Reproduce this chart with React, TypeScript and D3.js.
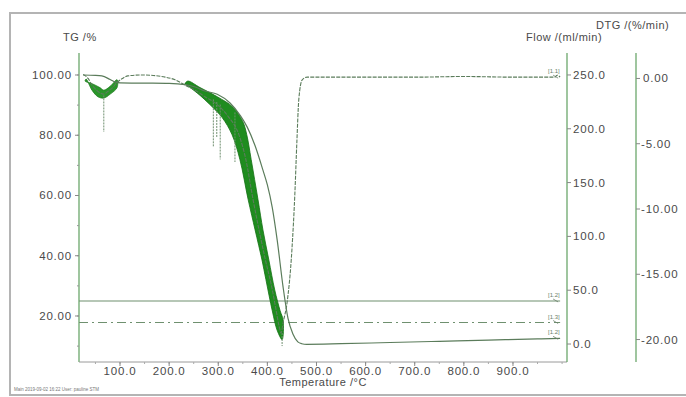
import React from 'react';
import * as d3 from 'd3';

// tick values for the four axes
const tempTicks = [100, 200, 300, 400, 500, 600, 700, 800, 900];
const tgTicks = [20, 40, 60, 80, 100];
const flowTicks = [0, 50, 100, 150, 200, 250];
const dtgTicks = [0, -5, -10, -15, -20];

// TG curve (%)
const tgTemp = [25, 50, 63, 80, 90, 100, 150, 200, 232, 253, 273, 298, 324, 345, 359, 375, 391, 400, 410, 420, 432, 442, 452, 462, 470, 480, 550, 650, 750, 850, 950, 996];
const tgValue = [100, 99.9, 99.7, 98.5, 97.7, 97.4, 97.3, 97.2, 96.8, 96.0, 94.7, 93.6, 90.7, 86.5, 82.7, 76.5, 68.4, 63.5, 56.0, 45.2, 29.6, 19.2, 14.0, 11.4, 10.8, 10.6, 10.8, 11.2, 11.6, 12.0, 12.4, 12.6];

// DTG curve (%/min), mean line
const dtgTemp = [25, 35, 43, 52, 59, 67, 75, 85, 94, 105, 116, 145, 192, 212, 232, 253, 273, 298, 320, 342, 355, 371, 383, 396, 409, 418, 424, 428, 432, 440, 450, 456, 460, 464, 471, 481, 520, 600, 700, 800, 900, 985, 990, 996];
const dtgValue = [0.3, 0.0, -0.5, -0.9, -1.1, -1.2, -1.0, -0.7, -0.3, 0.0, 0.2, 0.27, 0.1, -0.1, -0.5, -0.9, -1.4, -2.0, -2.9, -4.3, -6.0, -9.3, -11.6, -13.9, -16.0, -17.8, -19.0, -19.5, -18.7, -17.2, -13.1, -8.8, -4.9, -1.6, -0.1, 0.1, 0.1, 0.1, 0.1, 0.15, 0.1, 0.1, 0.25, 0.1];

// DTG noise envelope, main decomposition
const bandUpperTemp = [232, 238, 263, 298, 330, 350, 358, 367, 381, 391, 403, 415, 426, 432];
const bandUpperValue = [-0.4, -0.2, -0.7, -1.4, -2.2, -3.3, -4.3, -6.2, -9.3, -11.6, -13.9, -16.2, -17.8, -18.5];
const bandLowerTemp = [430, 420, 410, 397, 389, 375, 361, 344, 328, 308, 283, 263, 243, 232];
const bandLowerValue = [-20.0, -19.3, -17.8, -15.4, -13.9, -11.6, -9.3, -6.2, -4.3, -3.0, -2.0, -1.3, -0.7, -0.4];

// DTG noise envelope, early moisture step
const dipUpperTemp = [29, 43, 59, 67, 80, 94];
const dipUpperValue = [-0.2, -0.4, -0.7, -0.9, -0.6, -0.1];
const dipLowerTemp = [94, 80, 67, 55, 43, 31];
const dipLowerValue = [-0.7, -1.2, -1.5, -1.4, -0.9, -0.05];

// single spikes in DTG
const spikeTemp = [67, 290, 297, 304, 334, 430];
const spikeTop = [-1.3, -1.6, -1.8, -2.0, -2.6, -19.5];
const spikeBottom = [-4.1, -5.2, -4.5, -6.2, -6.4, -20.5];

// purge gas flows (ml/min)
const flowTemp = [16.5, 996];
const flowSolid = [40, 40];
const flowDashed = [20, 20];

const font = 'Liberation Sans, Arial, sans-serif';
const textCol = '#4a4a4a';
const axisGreen = '#5f9f5f';
const curveCol = '#5b7c5b';

const left = 79, right = 567, top = 53, bottom = 362, dtgAxisX = 636;

const App = () => {
  const x = d3.scaleLinear().domain([16.5, 1010]).range([left, right]);
  const yTG = d3.scaleLinear().domain([4.73, 107.3]).range([bottom, top]);
  const yDTG = d3.scaleLinear().domain([-21.72, 1.95]).range([bottom, top]);
  const yFlow = d3.scaleLinear().domain([-16.7, 270.4]).range([bottom, top]);

  const zip = (a: number[], b: number[]) => a.map((t, i) => [t, b[i]] as [number, number]);

  const tgLine = d3.line<[number, number]>().x(d => x(d[0])).y(d => yTG(d[1])).curve(d3.curveMonotoneX);
  const dtgLine = d3.line<[number, number]>().x(d => x(d[0])).y(d => yDTG(d[1])).curve(d3.curveMonotoneX);
  const flowLine = d3.line<[number, number]>().x(d => x(d[0])).y(d => yFlow(d[1]));
  const bandShape = d3.line<[number, number]>().x(d => x(d[0])).y(d => yDTG(d[1])).curve(d3.curveCatmullRomClosed);

  const band = [...zip(bandUpperTemp, bandUpperValue), ...zip(bandLowerTemp, bandLowerValue)];
  const dip = [...zip(dipUpperTemp, dipUpperValue), ...zip(dipLowerTemp, dipLowerValue)];

  const tempMinor = d3.range(50, 1001, 50);
  const tgMinor = d3.range(10, 101, 10);
  const endT = tgTemp[tgTemp.length - 1];

  const curveTag = (y: number, label: string, key: string) => (
    <g key={key} fill="#6b7f6b" stroke="#6b7f6b">
      <text x={x(endT) - 12} y={y - 4} fontSize={6} stroke="none" fontFamily={font}>{label}</text>
      <line x1={x(endT) - 7} y1={y - 2} x2={x(endT) - 2} y2={y + 1} strokeWidth={0.8} />
    </g>
  );

  const tickText = { fontSize: 11.5, fill: textCol, fontFamily: font, letterSpacing: 0.8 };
  const titleText = { fontSize: 11, fill: textCol, fontFamily: font, letterSpacing: 0.5 };

  return (
    <svg width={686} height={397} style={{ position: 'absolute', left: 0, top: 0, background: '#fff' }}>
      {/* outer frame */}
      <rect x={10} y={13} width={690} height={382} fill="none" stroke="#b4b4b4" strokeWidth={2} />

      {/* axis titles */}
      <text x={63} y={41} {...titleText}>TG /%</text>
      <text x={526} y={41} {...titleText}>Flow /(ml/min)</text>
      <text x={596} y={29} {...titleText}>DTG /(%/min)</text>
      <text x={323} y={386} {...titleText} textAnchor="middle">Temperature /°C</text>
      <text x={14} y={391} fontSize={4.5} fill="#777" fontFamily={font}>Main    2019-09-02 16:22    User: pauline STM</text>

      {/* TG axis */}
      <line x1={left} x2={left} y1={top} y2={bottom} stroke={axisGreen} strokeWidth={1.2} />
      {tgMinor.map(v => (
        <line key={'tm' + v} x1={left - 2} x2={left} y1={yTG(v)} y2={yTG(v)} stroke="#999" />
      ))}
      {tgTicks.map(v => (
        <g key={'tg' + v}>
          <line x1={left - 4} x2={left} y1={yTG(v)} y2={yTG(v)} stroke="#888" />
          <text x={72} y={yTG(v) + 4} {...tickText} textAnchor="end">{v.toFixed(2)}</text>
        </g>
      ))}

      {/* temperature axis */}
      <line x1={left} x2={right} y1={bottom} y2={bottom} stroke="#9a9a9a" strokeWidth={1} />
      {tempMinor.map(v => (
        <line key={'xm' + v} x1={x(v)} x2={x(v)} y1={bottom} y2={bottom + 2} stroke="#aaa" />
      ))}
      {tempTicks.map(v => (
        <g key={'x' + v}>
          <line x1={x(v)} x2={x(v)} y1={bottom} y2={bottom + 4} stroke="#888" />
          <text x={x(v)} y={375} {...tickText} textAnchor="middle">{v.toFixed(1)}</text>
        </g>
      ))}

      {/* flow axis */}
      <line x1={right} x2={right} y1={top} y2={bottom} stroke={axisGreen} strokeWidth={1.2} />
      {flowTicks.map(v => (
        <g key={'f' + v}>
          <line x1={right} x2={right + 4} y1={yFlow(v)} y2={yFlow(v)} stroke="#888" />
          <text x={573} y={yFlow(v) + 4} {...tickText}>{v.toFixed(1)}</text>
        </g>
      ))}

      {/* DTG axis */}
      <line x1={dtgAxisX} x2={dtgAxisX} y1={top} y2={bottom} stroke={axisGreen} strokeWidth={1.2} />
      {dtgTicks.map(v => (
        <g key={'d' + v}>
          <line x1={dtgAxisX} x2={dtgAxisX + 4} y1={yDTG(v)} y2={yDTG(v)} stroke="#888" />
          <text x={v === 0 ? 643 : 641} y={yDTG(v) + 4} {...tickText}>{v.toFixed(2)}</text>
        </g>
      ))}

      {/* flow curves */}
      <path d={flowLine(zip(flowTemp, flowSolid)) ?? ''} fill="none" stroke="#6f906f" strokeWidth={1.2} />
      <path d={flowLine(zip(flowTemp, flowDashed)) ?? ''} fill="none" stroke="#6f906f" strokeWidth={1.2} strokeDasharray="9,4,2,4" />

      {/* DTG noise envelope */}
      <path d={bandShape(band) ?? ''} fill="#1f8c1f" stroke="#147014" strokeWidth={0.8} />
      <path d={bandShape(dip) ?? ''} fill="#2a962a" stroke="#1a7a1a" strokeWidth={0.8} />
      {spikeTemp.map((t, i) => (
        <line key={'s' + i} x1={x(t)} x2={x(t)} y1={yDTG(spikeTop[i])} y2={yDTG(spikeBottom[i])} stroke="#6f8f6f" strokeWidth={1} strokeDasharray="2,1" />
      ))}

      {/* DTG and TG curves */}
      <path d={dtgLine(zip(dtgTemp, dtgValue)) ?? ''} fill="none" stroke={curveCol} strokeWidth={1.1} strokeDasharray="4,1.2" />
      <path d={tgLine(zip(tgTemp, tgValue)) ?? ''} fill="none" stroke={curveCol} strokeWidth={1.2} />

      {/* curve tags */}
      {curveTag(yDTG(dtgValue[dtgValue.length - 1]), '[1.1]', 't1')}
      {curveTag(yFlow(flowSolid[1]), '[1.2]', 't2')}
      {curveTag(yFlow(flowDashed[1]), '[1.3]', 't3')}
      {curveTag(yTG(tgValue[tgValue.length - 1]), '[1.2]', 't4')}
    </svg>
  );
};

export default App;
